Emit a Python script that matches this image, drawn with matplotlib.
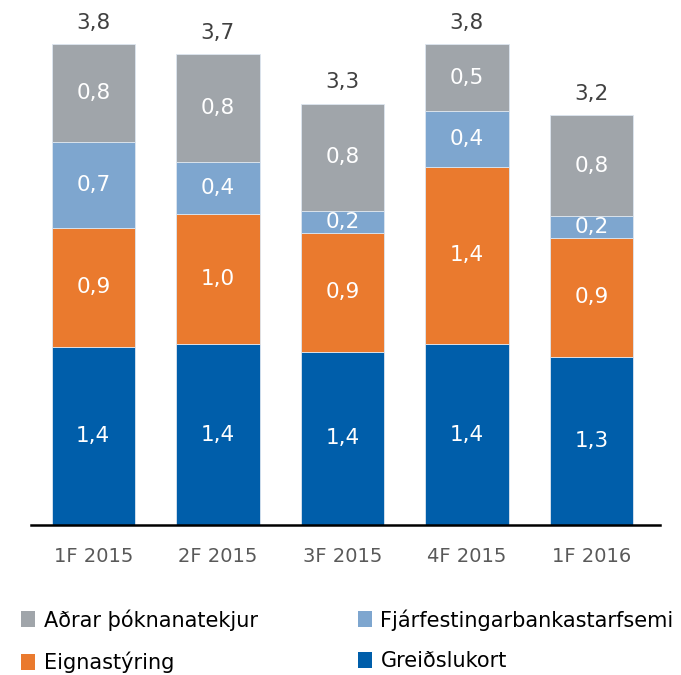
import matplotlib

matplotlib.use("Agg")
import matplotlib.pyplot as plt
from matplotlib.patches import Patch
import numpy as np

# --- Data ---
periods = ["1F 2015", "2F 2015", "3F 2015", "4F 2015", "1F 2016"]
greidslukort = [1.41, 1.43, 1.37, 1.43, 1.33]
eignastyring = [0.94, 1.03, 0.94, 1.40, 0.94]
fjarfesting = [0.68, 0.41, 0.17, 0.44, 0.17]
adrar = [0.77, 0.85, 0.85, 0.53, 0.80]

series_names = ["Greiðslukort", "Eignastýring",
                "Fjárfestingarbankastarfsemi", "Aðrar þóknanatekjur"]
series_values = [greidslukort, eignastyring, fjarfesting, adrar]
colors = ["#005EAA", "#EA7A2E", "#7EA6CF", "#A0A5AA"]


def fmt(v):
    return f"{v:.1f}".replace(".", ",")


def main():
    plt.rcParams.update({"font.family": "DejaVu Sans"})
    fig = plt.figure(figsize=(6.81, 6.75), dpi=100)
    ax = fig.add_axes([0.0455, 0.2222, 0.9236, 0.75])

    x = np.arange(len(periods))
    bottom = np.zeros(len(periods))
    for name, vals, col in zip(series_names, series_values, colors):
        vals = np.array(vals)
        ax.bar(x, vals, 0.67, bottom=bottom, color=col,
               edgecolor="#dde6f0", linewidth=0.6, label=name)
        for xi, b, v in zip(x, bottom, vals):
            ax.text(xi, b + v / 2, fmt(v), ha="center", va="center",
                    color="white", fontsize=15.5)
        bottom += vals

    for xi, tot in zip(x, bottom):
        ax.annotate(fmt(tot), (xi, tot), xytext=(0, 8),
                    textcoords="offset points", ha="center", va="bottom",
                    fontsize=15.5, color="#404040")

    ax.set_ylim(0, 4.0)
    ax.set_xlim(-0.5, 4.55)
    ax.set_yticks([])
    ax.set_xticks(x)
    ax.set_xticklabels(periods, fontsize=14, color="#595959")
    ax.tick_params(axis="x", length=0, pad=16)
    for s in ("top", "right", "left"):
        ax.spines[s].set_visible(False)
    ax.spines["bottom"].set_linewidth(1.8)
    ax.spines["bottom"].set_color("black")

    # legend: row-major order as in reference
    order = [3, 1, 2, 0]
    handles = [Patch(facecolor=colors[i]) for i in order]
    labels = [series_names[i] for i in order]
    fig.legend(handles, labels, ncol=2, loc="upper left",
               bbox_to_anchor=(0.018, 0.11), frameon=False,
               fontsize=15, handlelength=0.7, handleheight=0.8,
               handletextpad=0.4, columnspacing=4.8, labelspacing=1.0,
               labelcolor="black", borderaxespad=0)

    fig.savefig("out.png", dpi=100)


if __name__ == "__main__":
    main()
